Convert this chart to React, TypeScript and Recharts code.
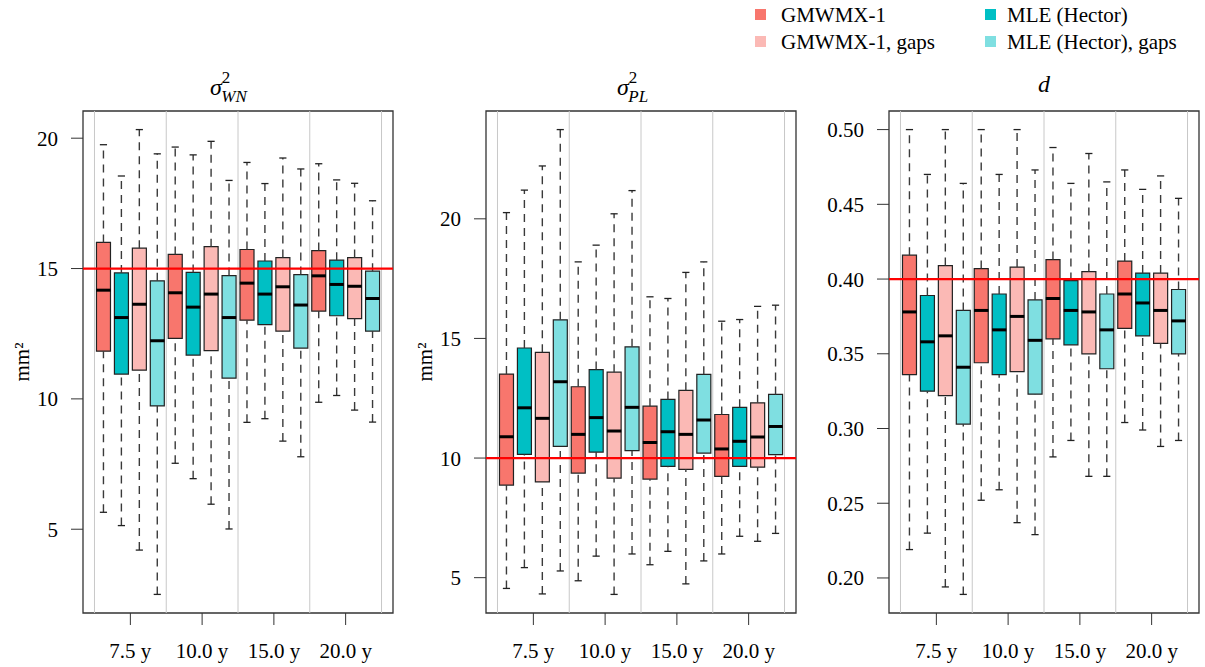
import { ComposedChart, Bar, Cell, XAxis, YAxis, ReferenceLine, ReferenceArea } from 'recharts';

const FONT = 'Times New Roman, Liberation Serif, DejaVu Serif, Times, serif';

const groups = ['7.5 y', '10.0 y', '15.0 y', '20.0 y'];
// order of the boxes inside each group
const boxMethods = ['GMWMX-1', 'MLE (Hector)', 'GMWMX-1, gaps', 'MLE (Hector), gaps'];
const COLORS = ['#F8766D', '#00BFC4', '#FBB9B5', '#7FDFE1'];

// sigma^2 WN
const wnLow = [5.65, 5.14, 4.2, 2.5, 7.53, 6.94, 5.96, 5.01, 9.1, 9.24, 8.38, 7.78, 9.87, 10.13, 9.57, 9.11];
const wnQ1 = [11.83, 10.95, 11.1, 9.73, 12.32, 11.68, 11.85, 10.8, 13.02, 12.85, 12.6, 11.95, 13.37, 13.19, 13.08, 12.6];
const wnMed = [14.17, 13.12, 13.63, 12.23, 14.07, 13.52, 14.02, 13.12, 14.44, 14.02, 14.3, 13.6, 14.72, 14.39, 14.32, 13.85];
const wnQ3 = [16.0, 14.83, 15.78, 14.53, 15.54, 14.85, 15.84, 14.73, 15.73, 15.29, 15.42, 14.77, 15.69, 15.32, 15.42, 14.9];
const wnHigh = [19.75, 18.55, 20.33, 19.4, 19.66, 19.36, 19.88, 18.38, 19.07, 18.26, 19.24, 18.82, 19.02, 18.4, 18.27, 17.6];

// sigma^2 PL
const plLow = [4.55, 5.42, 4.32, 5.28, 4.87, 5.9, 4.3, 5.99, 5.54, 6.1, 4.74, 5.7, 5.99, 6.73, 6.52, 6.85];
const plQ1 = [8.87, 10.15, 9.0, 10.49, 9.37, 10.25, 9.16, 10.31, 9.12, 9.65, 9.53, 10.21, 9.23, 9.65, 9.62, 10.14];
const plMed = [10.89, 12.1, 11.66, 13.19, 10.99, 11.69, 11.13, 12.12, 10.65, 11.1, 10.99, 11.59, 10.38, 10.7, 10.88, 11.32];
const plQ3 = [13.51, 14.6, 14.42, 15.78, 12.98, 13.7, 13.59, 14.65, 12.17, 12.45, 12.83, 13.5, 11.82, 12.12, 12.31, 12.66];
const plHigh = [20.26, 21.2, 22.21, 23.73, 18.2, 18.9, 20.21, 21.18, 16.74, 16.67, 17.76, 18.2, 15.72, 15.79, 16.34, 16.39];

// d
const dLow = [0.219, 0.23, 0.194, 0.189, 0.252, 0.259, 0.237, 0.229, 0.281, 0.292, 0.268, 0.268, 0.304, 0.299, 0.288, 0.292];
const dQ1 = [0.336, 0.325, 0.322, 0.303, 0.344, 0.336, 0.338, 0.323, 0.36, 0.356, 0.35, 0.34, 0.367, 0.362, 0.357, 0.35];
const dMed = [0.378, 0.358, 0.362, 0.341, 0.379, 0.366, 0.375, 0.359, 0.387, 0.379, 0.378, 0.366, 0.39, 0.384, 0.379, 0.372];
const dQ3 = [0.416, 0.389, 0.409, 0.379, 0.407, 0.39, 0.408, 0.386, 0.413, 0.399, 0.405, 0.39, 0.412, 0.404, 0.404, 0.393];
const dHigh = [0.5, 0.47, 0.5, 0.464, 0.5, 0.47, 0.5, 0.473, 0.488, 0.464, 0.484, 0.465, 0.473, 0.46, 0.469, 0.454];

const wnTicks = [5, 10, 15, 20];
const plTicks = [5, 10, 15, 20];
const dTicks = [0.2, 0.25, 0.3, 0.35, 0.4, 0.45, 0.5];

const groupTicks = [2.5, 6.5, 10.5, 14.5];
const separators = [0.5, 4.5, 8.5, 12.5, 16.5];
const X_DOMAIN: [number, number] = [-0.14, 17.14];

const CHART_W = 400;
const CHART_H = 667;

type PanelProps = {
  low: number[];
  q1: number[];
  med: number[];
  q3: number[];
  high: number[];
  yTicks: number[];
  yFmt: (v: number) => string;
  refValue: number;
  left: number;
};

function BoxPanel({ low, q1, med, q3, high, yTicks, yFmt, refValue, left }: PanelProps) {
  const lo = Math.min(...low);
  const hi = Math.max(...high);
  const pad = (hi - lo) * 0.04;
  const yDomain: [number, number] = [lo - pad, hi + pad];
  const data = low.map((_, i) => ({ pos: i + 1, box: [q1[i], q3[i]], method: boxMethods[i % 4] }));

  return (
    <div style={{ position: 'absolute', left, top: 0 }}>
      <ComposedChart width={CHART_W} height={CHART_H} data={data} margin={{ top: 111, right: 7, bottom: 0, left: 0 }}>
        <XAxis
          type="number"
          dataKey="pos"
          domain={X_DOMAIN}
          allowDataOverflow
          ticks={groupTicks}
          interval={0}
          tickFormatter={(v: number) => groups[Math.round((v - 2.5) / 4)]}
          height={54}
          axisLine={false}
          tickSize={12}
          tickMargin={18}
          tickLine={{ stroke: '#333' }}
          tick={{ fill: '#000', fontSize: 21, fontFamily: FONT }}
        />
        <YAxis
          type="number"
          domain={yDomain}
          allowDataOverflow
          ticks={yTicks}
          interval={0}
          tickFormatter={yFmt}
          width={83}
          axisLine={false}
          tickSize={12}
          tickMargin={13}
          tickLine={{ stroke: '#333' }}
          tick={{ fill: '#000', fontSize: 21, fontFamily: FONT }}
        />
        {separators.map((x) => (
          <ReferenceLine key={`sep-${x}`} x={x} stroke="#c8c8c8" strokeWidth={1} />
        ))}
        <Bar dataKey="box" barSize={14} stroke="#222" strokeWidth={1.2} isAnimationActive={false}>
          {data.map((d, i) => (
            <Cell key={`cell-${d.pos}`} fill={COLORS[i % COLORS.length]} />
          ))}
        </Bar>
        {data.map((d, i) => (
          <ReferenceLine
            key={`wu-${d.pos}`}
            segment={[{ x: d.pos, y: q3[i] }, { x: d.pos, y: high[i] }]}
            stroke="#3a3a3a"
            strokeWidth={1.4}
            strokeDasharray="8 6"
          />
        ))}
        {data.map((d, i) => (
          <ReferenceLine
            key={`wl-${d.pos}`}
            segment={[{ x: d.pos, y: low[i] }, { x: d.pos, y: q1[i] }]}
            stroke="#3a3a3a"
            strokeWidth={1.4}
            strokeDasharray="8 6"
          />
        ))}
        {data.map((d, i) => (
          <ReferenceLine
            key={`cu-${d.pos}`}
            segment={[{ x: d.pos - 0.2, y: high[i] }, { x: d.pos + 0.2, y: high[i] }]}
            stroke="#222"
            strokeWidth={1.3}
          />
        ))}
        {data.map((d, i) => (
          <ReferenceLine
            key={`cl-${d.pos}`}
            segment={[{ x: d.pos - 0.2, y: low[i] }, { x: d.pos + 0.2, y: low[i] }]}
            stroke="#222"
            strokeWidth={1.3}
          />
        ))}
        {data.map((d, i) => (
          <ReferenceLine
            key={`md-${d.pos}`}
            segment={[{ x: d.pos - 0.4, y: med[i] }, { x: d.pos + 0.4, y: med[i] }]}
            stroke="#000"
            strokeWidth={3}
          />
        ))}
        <ReferenceLine y={refValue} stroke="#ff0000" strokeWidth={2.2} />
        <ReferenceArea
          x1={X_DOMAIN[0]}
          x2={X_DOMAIN[1]}
          y1={yDomain[0]}
          y2={yDomain[1]}
          fill="none"
          fillOpacity={0}
          stroke="#333"
          strokeWidth={1.3}
        />
      </ComposedChart>
    </div>
  );
}

const legendLeft = [boxMethods[0], boxMethods[2]];
const legendRight = [boxMethods[1], boxMethods[3]];

function Overlay() {
  return (
    <svg
      width={1205}
      height={667}
      style={{ position: 'absolute', left: 0, top: 0, pointerEvents: 'none', fontFamily: FONT }}
    >
      {/* legend */}
      {legendLeft.map((m, i) => (
        <g key={m}>
          <rect x={755} y={9 + i * 27} width={11} height={11} fill={COLORS[boxMethods.indexOf(m)]} />
          <text x={781} y={22 + i * 27} fontSize={21} fill="#000">{m}</text>
        </g>
      ))}
      {legendRight.map((m, i) => (
        <g key={m}>
          <rect x={985} y={9 + i * 27} width={11} height={11} fill={COLORS[boxMethods.indexOf(m)]} />
          <text x={1007} y={22 + i * 27} fontSize={21} fill="#000">{m}</text>
        </g>
      ))}

      {/* panel titles */}
      <text x={210} y={95} fontSize={24} fill="#000">
        <tspan fontStyle="italic">σ</tspan>
        <tspan dy={-12} fontSize={17}>2</tspan>
        <tspan dx={-9} dy={19} fontSize={17} fontStyle="italic">WN</tspan>
      </text>
      <text x={617} y={95} fontSize={24} fill="#000">
        <tspan fontStyle="italic">σ</tspan>
        <tspan dy={-12} fontSize={17}>2</tspan>
        <tspan dx={-9} dy={19} fontSize={17} fontStyle="italic">PL</tspan>
      </text>
      <text x={1044} y={92} fontSize={24} fontStyle="italic" textAnchor="middle" fill="#000">d</text>

      {/* y axis titles */}
      <text x={29} y={362} fontSize={21} fill="#000" textAnchor="middle" transform="rotate(-90 29 362)">mm²</text>
      <text x={432} y={362} fontSize={21} fill="#000" textAnchor="middle" transform="rotate(-90 432 362)">mm²</text>
    </svg>
  );
}

export default function App() {
  return (
    <div style={{ position: 'absolute', left: 0, top: 0, width: 1205, height: 667, background: '#fff', fontFamily: FONT }}>
      <BoxPanel low={wnLow} q1={wnQ1} med={wnMed} q3={wnQ3} high={wnHigh} yTicks={wnTicks} yFmt={(v) => String(v)} refValue={15} left={0} />
      <BoxPanel low={plLow} q1={plQ1} med={plMed} q3={plQ3} high={plHigh} yTicks={plTicks} yFmt={(v) => String(v)} refValue={10} left={403} />
      <BoxPanel low={dLow} q1={dQ1} med={dMed} q3={dQ3} high={dHigh} yTicks={dTicks} yFmt={(v) => v.toFixed(2)} refValue={0.4} left={806} />
      <Overlay />
    </div>
  );
}
